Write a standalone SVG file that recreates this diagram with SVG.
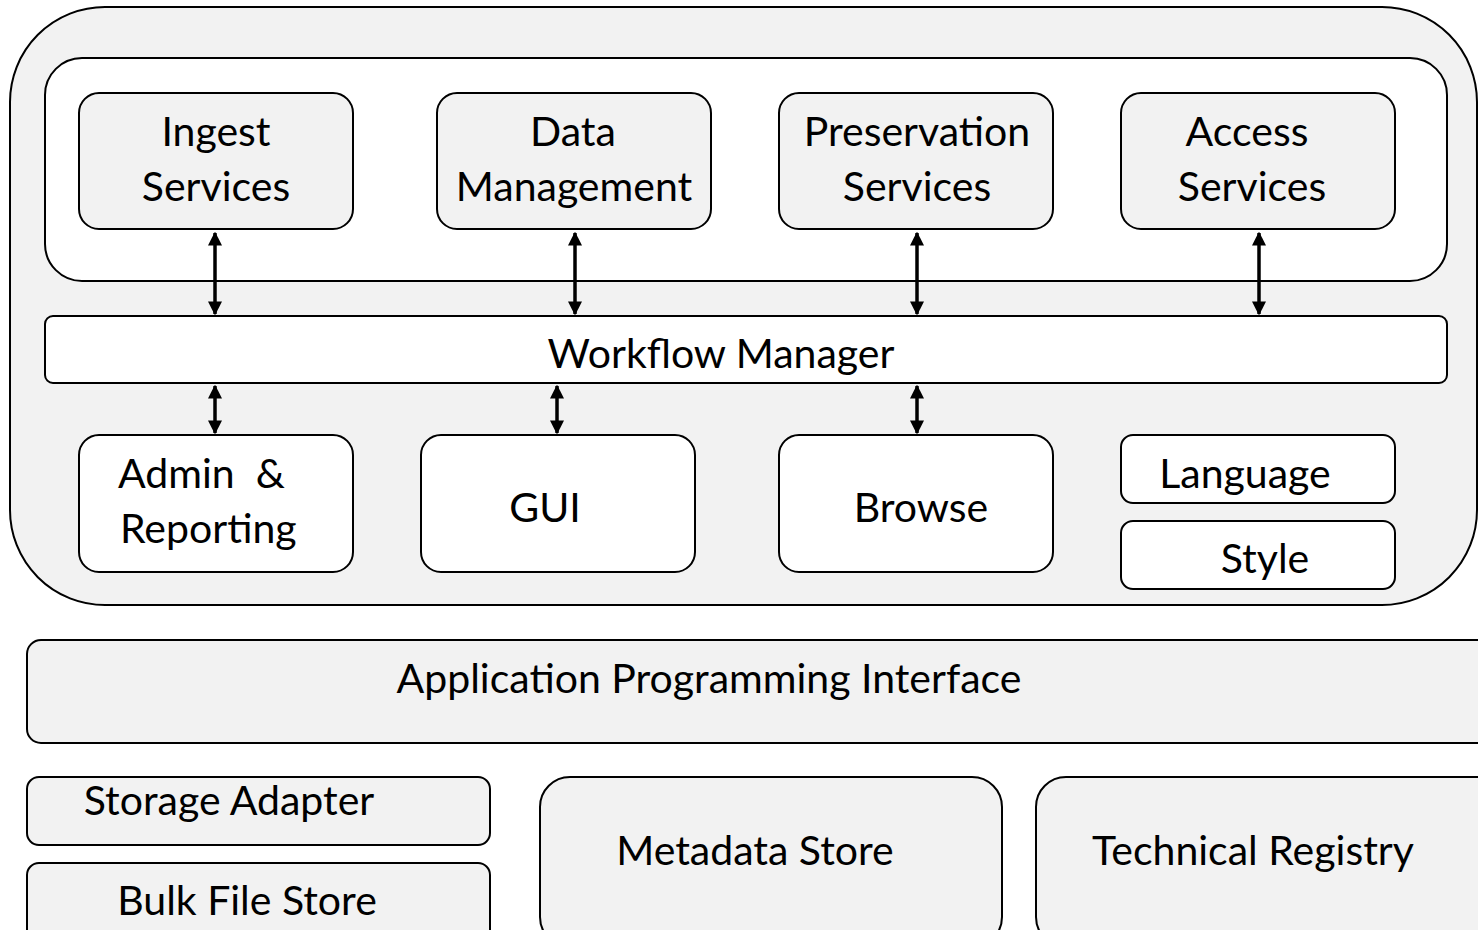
<svg xmlns="http://www.w3.org/2000/svg" width="1478" height="930" viewBox="0 0 1478 930">
<defs>
<style>
.g{fill:#f2f2f2;stroke:#000;stroke-width:2}
.w{fill:#fff;stroke:#000;stroke-width:2}
text{font-family:Lato,"Open Sans",sans-serif;font-size:41px;fill:#000;text-anchor:middle}
.c{stroke:#000;stroke-width:3.5;fill:none;marker-start:url(#ah);marker-end:url(#ah)}
</style>
<marker id="ah" viewBox="0 0 10 10" refX="9" refY="5" markerWidth="4" markerHeight="4.2" orient="auto-start-reverse" markerUnits="strokeWidth">
<path d="M0,0 L10,5 L0,10 z" fill="#000"/>
</marker>
</defs>
<rect width="1478" height="930" fill="#fff"/>
<g id="platform"><rect class="g" x="10" y="7" width="1467" height="598" rx="95" ry="95"/></g>
<g id="services-area"><rect class="w" x="45" y="58" width="1402" height="223" rx="37" ry="37"/></g>
<g id="ingest"><rect class="g" x="79" y="93" width="274" height="136" rx="20"/><text x="216" y="146">Ingest</text><text x="216" y="201">Services</text></g>
<g id="data-management"><rect class="g" x="437" y="93" width="274" height="136" rx="20"/><text x="573" y="146">Data</text><text x="574" y="201">Management</text></g>
<g id="preservation"><rect class="g" x="779" y="93" width="274" height="136" rx="20"/><text x="917" y="146">Preservation</text><text x="917" y="201">Services</text></g>
<g id="access"><rect class="g" x="1121" y="93" width="274" height="136" rx="20"/><text x="1247" y="146">Access</text><text x="1252" y="201">Services</text></g>
<g id="workflow"><rect class="w" x="45" y="316" width="1402" height="67" rx="8"/><text x="721" y="368">Workflow Manager</text></g>
<g id="admin"><rect class="w" x="79" y="435" width="274" height="137" rx="20"/><text x="118" y="488" style="text-anchor:start" xml:space="preserve">Admin  &amp;</text><text x="120" y="543" style="text-anchor:start">Reporting</text></g>
<g id="gui"><rect class="w" x="421" y="435" width="274" height="137" rx="20"/><text x="545" y="522">GUI</text></g>
<g id="browse"><rect class="w" x="779" y="435" width="274" height="137" rx="20"/><text x="921" y="522">Browse</text></g>
<g id="language"><rect class="w" x="1121" y="435" width="274" height="68" rx="12"/><text x="1245" y="488">Language</text></g>
<g id="style"><rect class="w" x="1121" y="521" width="274" height="68" rx="12"/><text x="1265" y="573">Style</text></g>
<g id="api"><rect class="g" x="27" y="640" width="1480" height="103" rx="14"/><text x="709" y="693">Application Programming Interface</text></g>
<g id="storage-adapter"><rect class="g" x="27" y="777" width="463" height="68" rx="12"/><text x="229" y="815">Storage Adapter</text></g>
<g id="bulk-file-store"><rect class="g" x="27" y="863" width="463" height="90" rx="12"/><text x="247" y="915">Bulk File Store</text></g>
<g id="metadata-store"><rect class="g" x="540" y="777" width="462" height="170" rx="30"/><text x="755" y="865">Metadata Store</text></g>
<g id="technical-registry"><rect class="g" x="1036" y="777" width="470" height="170" rx="30"/><text x="1253" y="865">Technical Registry</text></g>
<g id="connectors">
<line class="c" x1="215" y1="233" x2="215" y2="314"/>
<line class="c" x1="575" y1="233" x2="575" y2="314"/>
<line class="c" x1="917" y1="233" x2="917" y2="314"/>
<line class="c" x1="1259" y1="233" x2="1259" y2="314"/>
<line class="c" x1="215" y1="386" x2="215" y2="433"/>
<line class="c" x1="557" y1="386" x2="557" y2="433"/>
<line class="c" x1="917" y1="386" x2="917" y2="433"/>
</g>
</svg>
